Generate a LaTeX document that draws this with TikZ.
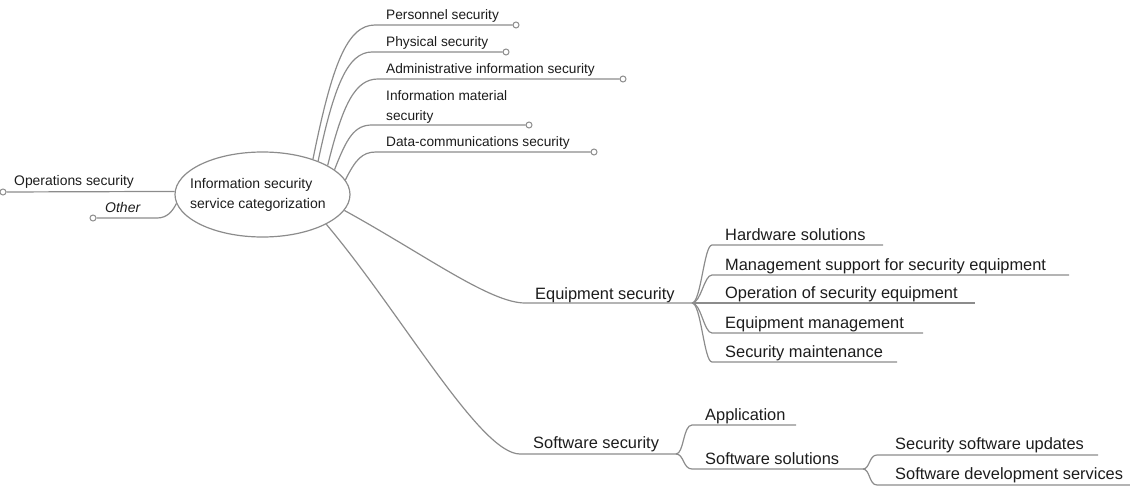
\documentclass[tikz,border=0pt]{standalone}
\usepackage{fontspec}
\setmainfont{Liberation Sans}
\usetikzlibrary{shapes.geometric}
\definecolor{linkgray}{RGB}{140,140,140}
\definecolor{inkgray}{RGB}{28,28,28}
\begin{document}
\begin{tikzpicture}[x=1pt,y=-1pt,
  link/.style={draw=linkgray,line width=1.2pt},
  small/.style={font=\fontsize{13.7}{20}\selectfont},
  big/.style={font=\fontsize{16.4}{20}\selectfont},
  lbl/.style={anchor=base west,inner sep=0pt,text=inkgray},
  tip/.style={circle,draw=linkgray,line width=1pt,fill=white,inner sep=0pt,minimum size=6pt},
]
\useasboundingbox (0,0) rectangle (1130,487);

% central topic: outline and its two-line title
\node[ellipse,draw=linkgray,line width=1.2pt,minimum width=175pt,minimum height=85pt,
      inner sep=0pt] (root) at (262.5,194.5) {};
\node[anchor=west,inner sep=0pt,align=left,font=\fontsize{14}{20}\selectfont,text=inkgray]
      (rootTitle) at (190,195) {Information security\\service categorization};

% upper branches
\node[lbl,small] (pers) at (386,19.5) {Personnel security};
\coordinate (persL) at (375,25);
\node[tip] (persT) at (516,25) {};
\draw[link] (root.35) .. controls +(19,-94) and +(-28,0) .. (persL) -- (persT);

\node[lbl,small] (phys) at (386,46.5) {Physical security};
\coordinate (physL) at (372,52);
\node[tip] (physT) at (506,52) {};
\draw[link] (root.31) .. controls +(16,-76) and +(-24,0) .. (physL) -- (physT);

\node[lbl,small] (admin) at (386,73.5) {Administrative information security};
\coordinate (adminL) at (378,79);
\node[tip] (adminT) at (623,79) {};
\draw[link] (root.24) .. controls +(15,-61) and +(-23,0) .. (adminL) -- (adminT);

\node[lbl,small,anchor=west,align=left] (mat) at (386,107) {Information material\\security};
\coordinate (matL) at (372,125);
\node[tip] (matT) at (529,125) {};
\draw[link] (root.19.7) .. controls +(12,-31) and +(-18,0) .. (matL) -- (matT);

\node[lbl,small] (data) at (386,146.5) {Data-communications security};
\coordinate (dataL) at (376,152);
\node[tip] (dataT) at (594,152) {};
\draw[link] (root.10) .. controls +(10,-20) and +(-14,0) .. (dataL) -- (dataT);

% left branches
\node[lbl,font=\fontsize{13.9}{20}\selectfont] (ops) at (14,185.5) {Operations security};
\node[tip] (opsT) at (3,192) {};
\draw[link] (opsT) -- (root.178);

\node[lbl,font=\fontsize{14}{20}\itshape] (oth) at (105,212.5) {Other};
\node[tip] (othT) at (93,218) {};
\coordinate (othL) at (157,218);
\draw[link] (othT) -- (othL) .. controls +(10,0) and +(-4,8) .. (root.186);

% equipment security
\node[lbl,big] (eq) at (535,299) {Equipment security};
\coordinate (eqL) at (525,303);
\coordinate (eqF) at (692,303);
\draw[link] (root.-11) .. controls +(80,44) and +(-35,0) .. (eqL) -- (eqF);

\node[lbl,big] (hw) at (725,240) {Hardware solutions};
\coordinate (hwL) at (712,245);
\coordinate (hwE) at (883,245);
\draw[link] (eqF) .. controls +(9,0) and +(-8,0) .. (hwL) -- (hwE);

\node[lbl,big] (mg) at (725,270) {Management support for security equipment};
\coordinate (mgL) at (712,275);
\coordinate (mgE) at (1069,275);
\draw[link] (eqF) .. controls +(9,0) and +(-8,0) .. (mgL) -- (mgE);

\node[lbl,big] (op) at (725,298.5) {Operation of security equipment};
\coordinate (opE) at (975,303);
\draw[link] (eqF) -- (opE);

\node[lbl,big] (em) at (725,328) {Equipment management};
\coordinate (emL) at (712,333);
\coordinate (emE) at (923,333);
\draw[link] (eqF) .. controls +(9,0) and +(-8,0) .. (emL) -- (emE);

\node[lbl,big] (sm) at (725,357) {Security maintenance};
\coordinate (smL) at (712,362);
\coordinate (smE) at (897,362);
\draw[link] (eqF) .. controls +(9,0) and +(-8,0) .. (smL) -- (smE);

% software security
\node[lbl,big] (sw) at (533,448) {Software security};
\coordinate (swL) at (520,454);
\coordinate (swF) at (676,454);
\draw[link] (root.-25) .. controls +(75,89) and +(-40,0) .. (swL) -- (swF);

\node[lbl,big] (app) at (705,420) {Application};
\coordinate (appL) at (692,425);
\coordinate (appE) at (796,425);
\draw[link] (swF) .. controls +(8,0) and +(-9,0) .. (appL) -- (appE);

\node[lbl,big] (sol) at (705,464) {Software solutions};
\coordinate (solL) at (692,469);
\coordinate (solF) at (863,469);
\draw[link] (swF) .. controls +(8,0) and +(-9,0) .. (solL) -- (solF);

\node[lbl,big] (upd) at (895,449) {Security software updates};
\coordinate (updL) at (877,455);
\coordinate (updE) at (1098,455);
\draw[link] (solF) .. controls +(7,0) and +(-8,0) .. (updL) -- (updE);

\node[lbl,big] (dev) at (895,479) {Software development services};
\coordinate (devL) at (877,485);
\coordinate (devE) at (1130,485);
\draw[link] (solF) .. controls +(7,0) and +(-8,0) .. (devL) -- (devE);
\end{tikzpicture}
\end{document}
